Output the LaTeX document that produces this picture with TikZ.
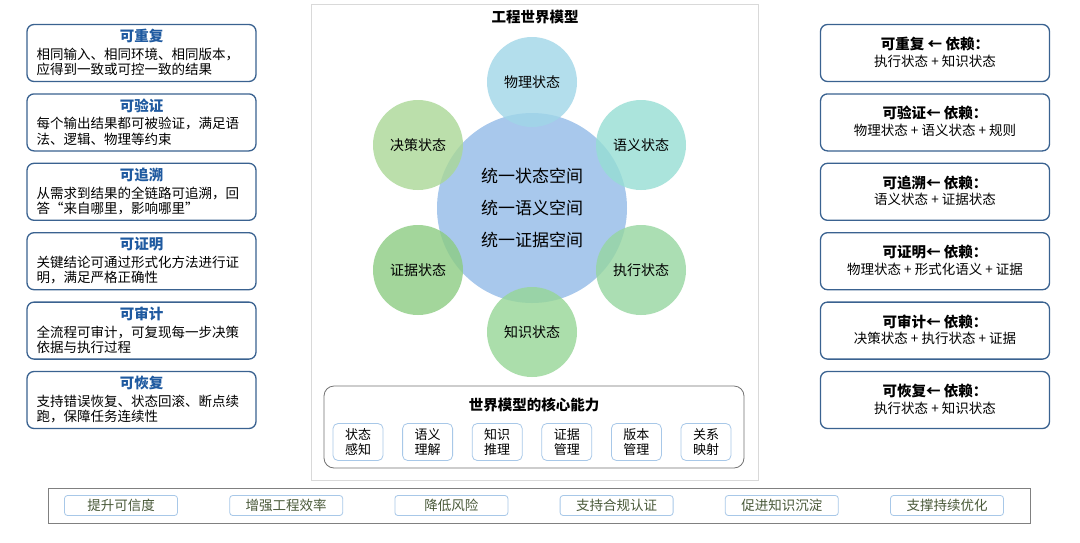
\documentclass[tikz,border=0pt]{standalone}
\usepackage{fontspec}
\setmainfont{Noto Sans CJK SC}
\begin{document}
\begin{tikzpicture}[x=1pt,y=-1pt,
 side/.style={draw=boxb,line width=1.3pt,rounded corners=7pt,minimum width=229pt,minimum height=57pt,inner sep=0pt},
 st/.style={circle,minimum size=90pt,inner sep=0pt,font=\fontsize{14}{16}\selectfont,fill opacity=0.8,text opacity=1},
 capn/.style={draw=capb,line width=0.8pt,rounded corners=5pt,minimum width=50pt,minimum height=37pt,inner sep=0pt,align=center,font=\fontsize{13}{15}\selectfont,fill=white},
 ben/.style={draw=capb,line width=0.8pt,rounded corners=3pt,minimum width=113pt,minimum height=20pt,inner sep=0pt,font=\fontsize{13.5}{15}\selectfont,text=bentxt,fill=white}]
\definecolor{boxb}{HTML}{3A6290}
\definecolor{ttl}{HTML}{1F5AA0}
\definecolor{capb}{HTML}{A8C8E8}
\definecolor{bentxt}{HTML}{4A5A3A}
\useasboundingbox (0,0) rectangle (1080,542);
\fill[white] (0,0) rectangle (1080,542);
% center panel
\node[draw=black!15,line width=1pt,minimum width=447pt,minimum height=476pt,inner sep=0pt] (panel) at (534.5,242) {};
\node[font=\bfseries\fontsize{14.5}{16}\selectfont] (title) at (535,17) {工程世界模型};
\node[circle,minimum size=190pt,inner sep=0pt,fill={rgb,255:red,168;green,200;blue,236},align=center,font=\fontsize{17}{32}\selectfont] (core) at (532,208) {统一状态空间\\统一语义空间\\统一证据空间};
\node[st,fill={rgb,255:red,160;green,214;blue,232}] (s1) at (532,82) {物理状态};
\node[st,fill={rgb,255:red,150;green,222;blue,212}] (s2) at (641,145) {语义状态};
\node[st,fill={rgb,255:red,150;green,214;blue,160}] (s3) at (641,270) {执行状态};
\node[st,fill={rgb,255:red,150;green,214;blue,150}] (s4) at (532,332) {知识状态};
\node[st,fill={rgb,255:red,140;green,204;blue,130}] (s5) at (418,270) {证据状态};
\node[st,fill={rgb,255:red,170;green,216;blue,150}] (s6) at (418,145) {决策状态};
% core capabilities
\node[draw=black!55,line width=0.8pt,rounded corners=10pt,minimum width=420pt,minimum height=82pt,inner sep=0pt] (capbox) at (534,427) {};
\node[font=\bfseries\fontsize{14.5}{16}\selectfont] (captitle) at (534,405) {世界模型的核心能力};
\foreach \n/\t [count=\i] in {c1/状态\\感知,c2/语义\\理解,c3/知识\\推理,c4/证据\\管理,c5/版本\\管理,c6/关系\\映射}
  \node[capn] (\n) at ({358+69.6*(\i-1)},442) {\t};
% bottom bar
\node[draw=black!50,line width=1pt,minimum width=982pt,minimum height=35pt,inner sep=0pt] (bar) at (539,505.5) {};
\foreach \n/\t [count=\i] in {b1/提升可信度,b2/增强工程效率,b3/降低风险,b4/支持合规认证,b5/促进知识沉淀,b6/支撑持续优化}
  \node[ben] (\n) at ({121+165.2*(\i-1)},505.5) {\t};
% left boxes
\foreach \n/\h/\a/\b [count=\i] in {
 l1/可重复/相同输入、相同环境、相同版本，/应得到一致或可控一致的结果,
 l2/可验证/每个输出结果都可被验证，满足语/法、逻辑、物理等约束,
 l3/可追溯/从需求到结果的全链路可追溯，回/答“来自哪里，影响哪里”,
 l4/可证明/关键结论可通过形式化方法进行证/明，满足严格正确性,
 l5/可审计/全流程可审计，可复现每一步决策/依据与执行过程,
 l6/可恢复/支持错误恢复、状态回滚、断点续/跑，保障任务连续性}{
  \node[side] (\n) at (141.5,{53+69.4*(\i-1)}) {};
  \node[font=\bfseries\fontsize{14.5}{16}\selectfont,text=ttl] at (141.5,{36+69.4*(\i-1)}) {\h};
  \node[font=\fontsize{13.5}{15.5}\selectfont,anchor=west,align=left] at (33,{62+69.4*(\i-1)}) {\a\\\b};
}
% right boxes
\foreach \n/\h/\a [count=\i] in {
 r1/可重复 ← 依赖：/执行状态 + 知识状态,
 r2/可验证← 依赖：/物理状态 + 语义状态 + 规则,
 r3/可追溯← 依赖：/语义状态 + 证据状态,
 r4/可证明← 依赖：/物理状态 + 形式化语义 + 证据,
 r5/可审计← 依赖：/决策状态 + 执行状态 + 证据,
 r6/可恢复← 依赖：/执行状态 + 知识状态}{
  \node[side] (\n) at (935,{53+69.4*(\i-1)}) {};
  \node[font=\bfseries\fontsize{14.5}{16}\selectfont] at (935,{44+69.4*(\i-1)}) {\h};
  \node[font=\fontsize{13.5}{15}\selectfont] at (935,{61+69.4*(\i-1)}) {\a};
}
\end{tikzpicture}
\end{document}
